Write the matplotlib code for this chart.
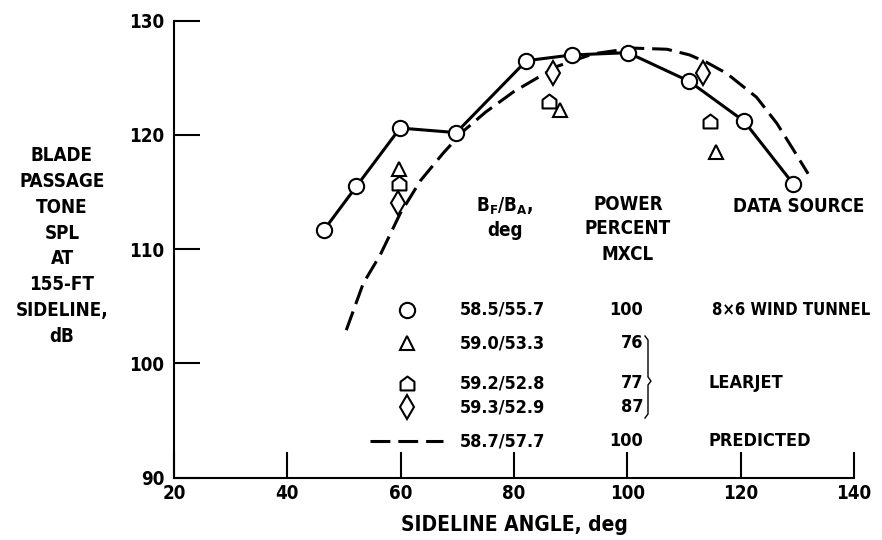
import matplotlib
matplotlib.use('Agg')
import matplotlib.pyplot as plt
from matplotlib.path import Path
from matplotlib.lines import Line2D

FONT = ['DejaVu Sans']
plt.rcParams['font.family'] = FONT
plt.rcParams['font.weight'] = 'bold'
plt.rcParams['font.stretch'] = 'condensed'
plt.rcParams['mathtext.fontset'] = 'custom'
plt.rcParams['mathtext.rm'] = 'DejaVu Sans:weight=bold:stretch=condensed'
plt.rcParams['mathtext.bf'] = 'DejaVu Sans:weight=bold:stretch=condensed'
plt.rcParams['mathtext.it'] = 'DejaVu Sans:weight=bold:stretch=condensed'

# ---------------- data ----------------
wt_angle = [46.5, 52.2, 59.9, 69.8, 82.2, 90.2, 100.1, 110.9, 120.6, 129.3]
wt_spl = [111.7, 115.5, 120.6, 120.2, 126.5, 127.0, 127.2, 124.7, 121.2, 115.7]

lj76_angle = [59.7, 88.1, 115.6]
lj76_spl = [117.0, 122.2, 118.5]
lj77_angle = [59.7, 86.1, 114.6]
lj77_spl = [115.8, 123.0, 121.2]
lj87_angle = [59.6, 86.8, 113.3]
lj87_spl = [114.0, 125.4, 125.4]

pred_angle = [50.4, 53.4, 56.4, 59.9, 63.5, 67.5, 71.0, 75.0, 80.0, 87.6, 94.0,
              101.0, 107.0, 111.0, 114.0, 117.5, 122.8, 126.4, 129.3, 131.9]
pred_spl = [102.9, 107.0, 109.5, 113.1, 116.0, 118.4, 120.3, 122.0, 123.8, 126.0, 127.1,
            127.6, 127.5, 127.0, 126.35, 125.4, 123.3, 121.0, 118.7, 116.6]

x_ticks = [20, 40, 60, 80, 100, 120, 140]
y_ticks = [90, 100, 110, 120, 130]

legend_ratio = ['58.5/55.7', '59.0/53.3', '59.2/52.8', '59.3/52.9', '58.7/57.7']
legend_power = ['100', '76', '77', '87', '100']
legend_source = ['8\u00d76 WIND TUNNEL', '', 'LEARJET', '', 'PREDICTED']

# ---------------- figure ----------------
W, H = 882, 540
fig = plt.figure(figsize=(W / 100, H / 100), dpi=100)
ax = fig.add_axes([174 / W, 62.5 / H, 680 / W, 456.8 / H])

house = Path([(-1, -1), (1, -1), (1, 0.25), (0, 1), (-1, 0.25), (-1, -1)],
             [Path.MOVETO, Path.LINETO, Path.LINETO, Path.LINETO, Path.LINETO, Path.CLOSEPOLY])

LW = 2.2
DASH = (6.5, 2.6)
mk = dict(markerfacecolor='white', markeredgecolor='black', markeredgewidth=1.5, linestyle='none')

ax.plot(pred_angle, pred_spl, color='black', lw=LW, dashes=DASH)
ax.plot(wt_angle, wt_spl, color='black', lw=LW, marker='o', markersize=11,
        markerfacecolor='white', markeredgecolor='black', markeredgewidth=1.5, zorder=3)
ax.plot(lj76_angle, lj76_spl, marker='^', markersize=10, **mk)
ax.plot(lj77_angle, lj77_spl, marker=house, markersize=10, **mk)
ax.plot(lj87_angle, lj87_spl, marker='d', markersize=12, **mk)

ax.set_xlim(20, 140)
ax.set_ylim(90, 130)
ax.set_xticks(x_ticks)
ax.set_yticks(y_ticks)
ax.spines['top'].set_visible(False)
ax.spines['right'].set_visible(False)
for s in ('left', 'bottom'):
    ax.spines[s].set_linewidth(1.5)
ax.tick_params(direction='in', length=18.7, width=1.5, labelsize=13.5)
ax.tick_params(axis='x', pad=5)
ax.tick_params(axis='y', pad=7)
ax.set_xlabel('SIDELINE ANGLE, deg', fontsize=15, fontweight='bold', labelpad=8)
ax.set_ylabel('BLADE\nPASSAGE\nTONE\nSPL\nAT\n155-FT\nSIDELINE,\ndB', rotation=0,
              fontsize=13.5, fontweight='bold', ha='center', va='center', linespacing=1.45)
ax.yaxis.set_label_coords((62 - 174) / 680, (477.5 - 246) / 456.8)


def fx(px):
    return px / W


def fy(py):
    return 1 - py / H


FS = 13
# headers
fig.text(fx(505), fy(206), r'B$_{\mathrm{F}}$/B$_{\mathrm{A}}$,', fontsize=FS + 0.5, ha='center', va='center')
fig.text(fx(505), fy(231), 'deg', fontsize=FS + 0.5, ha='center', va='center')
fig.text(fx(628), fy(229), 'POWER\nPERCENT\nMXCL', fontsize=FS + 0.5, ha='center', va='center',
         linespacing=1.4)
fig.text(fx(733), fy(206), 'DATA SOURCE', fontsize=FS + 0.5, ha='left', va='center')

row_y = [310, 343, 383, 407, 441]
row_marker = ['o', '^', house, 'd', None]
row_ms = [11, 10, 10, 12, 0]
source_x = [712, 0, 708, 0, 708]
source_fs = [12, 0, FS, 0, FS]
for i, y in enumerate(row_y):
    if row_marker[i] is not None:
        fig.add_artist(Line2D([fx(407)], [fy(y)], transform=fig.transFigure,
                              marker=row_marker[i], markersize=row_ms[i], **mk))
    else:
        fig.add_artist(Line2D([fx(370), fx(443)], [fy(y), fy(y)], transform=fig.transFigure,
                              color='black', lw=LW, dashes=DASH))
    fig.text(fx(460), fy(y), legend_ratio[i], fontsize=FS, ha='left', va='center')
    fig.text(fx(643), fy(y), legend_power[i], fontsize=FS, ha='right', va='center')
    if legend_source[i]:
        fig.text(fx(source_x[i]), fy(y), legend_source[i], fontsize=source_fs[i],
                 ha='left', va='center')

# brace
bx = [645, 648, 648, 651, 648, 648, 645]
by = [336, 340, 377, 381, 385, 414, 418]
fig.add_artist(Line2D([fx(v) for v in bx], [fy(v) for v in by], transform=fig.transFigure,
                      color='black', lw=1.0))

fig.savefig('out.png', dpi=100)
